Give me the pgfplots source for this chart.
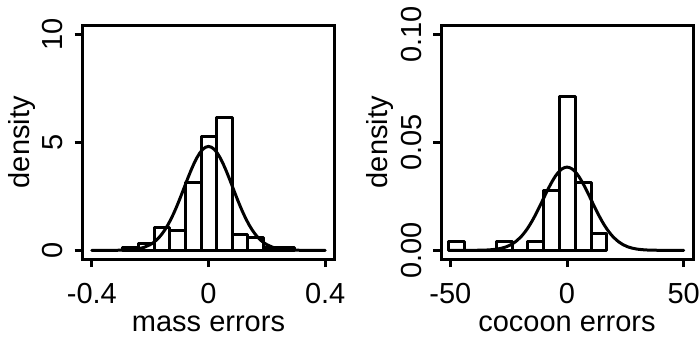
\documentclass[border=0pt]{standalone}
\usepackage{pgfplots}
\pgfplotsset{compat=1.18}
\usepackage{fontspec}
\setmainfont{Liberation Sans}
\begin{document}
\begin{tikzpicture}
\useasboundingbox (0,0) rectangle (700pt,340pt);
\pgfplotsset{
 rstyle/.style={
  scale only axis, width=252pt, height=233.5pt, anchor=south west,
  axis line style={line width=3pt},
  tick align=outside, major tick length=8pt,
  tick style={line width=3pt, black},
  xtick pos=bottom, ytick pos=left,
  /pgf/number format/assume math mode=true,
  tick label style={font=\fontsize{29}{34}\selectfont},
  xticklabel style={anchor=base, yshift=-36.3pt},
  yticklabel style={xshift=-12pt, rotate=90, anchor=base},
  every axis x label/.style={at={(axis description cs:0.5,-0.3113)}, anchor=base, font=\fontsize{29}{34}\selectfont},
  every axis y label/.style={at={(axis description cs:-0.2123,0.5)}, rotate=90, anchor=base, font=\fontsize{29}{34}\selectfont},
 },
 curve/.style={line width=3pt, black, line cap=round, line join=round},
 histbars/.style={ybar interval, draw=black, fill=none, line width=3pt, line join=round},
}
% left panel
\begin{axis}[rstyle, at={(82.5pt,81pt)},
  xmin=-0.432, xmax=0.432, ymin=-0.4, ymax=10.4,
  xtick={-0.4,0,0.4}, xticklabels={-0.4,0,0.4},
  ytick={0,5,10}, yticklabels={0,5,10},
  xlabel={mass errors}, ylabel={density}]
\addplot[histbars] coordinates {
(-0.2938,0.15) (-0.2402,0.30) (-0.1865,1.05) (-0.1329,0.90) (-0.0792,3.15)
(-0.0256,5.25) (0.0281,6.15) (0.0817,0.75) (0.1354,0.60) (0.1890,0.15)
(0.2427,0.15) (0.2963,0.15)};
\addplot[curve] coordinates {
(-0.40,0) (-0.38,0.0001) (-0.36,0.0003) (-0.34,0.0010) (-0.32,0.0028) (-0.30,0.0070)
(-0.28,0.0163) (-0.26,0.0356) (-0.24,0.0735) (-0.22,0.143) (-0.20,0.264) (-0.19,0.350)
(-0.18,0.458) (-0.17,0.590) (-0.16,0.750) (-0.15,0.939) (-0.14,1.159) (-0.13,1.410)
(-0.12,1.690) (-0.11,1.997) (-0.10,2.326) (-0.09,2.670) (-0.08,3.021) (-0.07,3.368)
(-0.06,3.701) (-0.05,4.009) (-0.04,4.279) (-0.03,4.502) (-0.02,4.669) (-0.01,4.771)
(0,4.806)
(0.01,4.771) (0.02,4.669) (0.03,4.502) (0.04,4.279) (0.05,4.009) (0.06,3.701)
(0.07,3.368) (0.08,3.021) (0.09,2.670) (0.10,2.326) (0.11,1.997) (0.12,1.690)
(0.13,1.410) (0.14,1.159) (0.15,0.939) (0.16,0.750) (0.17,0.590) (0.18,0.458)
(0.19,0.350) (0.20,0.264) (0.22,0.143) (0.24,0.0735) (0.26,0.0356) (0.28,0.0163)
(0.30,0.0070) (0.32,0.0028) (0.34,0.0010) (0.36,0.0003) (0.38,0.0001) (0.40,0)};
\end{axis}
% right panel
\begin{axis}[rstyle, at={(441pt,81pt)},
  xmin=-54, xmax=54, ymin=-0.004, ymax=0.104,
  xtick={-50,0,50}, xticklabels={-50,0,50},
  ytick={0,0.05,0.1}, yticklabels={0.00,0.05,0.10},
  xlabel={cocoon errors}, ylabel={density}]
\addplot[histbars] coordinates {
(-50.60,0.00395) (-43.83,0) (-37.06,0) (-30.29,0.00395) (-23.52,0)
(-16.75,0.00395) (-9.98,0.02765) (-3.21,0.0711) (3.56,0.0316) (10.33,0.0079)
(17.10,0.0079)};
\addplot[curve] coordinates {
(-50,0) (-45,0) (-40,0.00002) (-36,0.00009) (-34,0.00018) (-32,0.00033) (-30,0.00058)
(-28,0.00100) (-26,0.00165) (-24,0.00263) (-22,0.00404) (-20,0.00597) (-19,0.00716)
(-18,0.00851) (-17,0.01001) (-16,0.01168) (-15,0.01349) (-14,0.01545) (-13,0.01752)
(-12,0.01968) (-11,0.02191) (-10,0.02416) (-9,0.02640) (-8,0.02857) (-7,0.03064)
(-6,0.03255) (-5,0.03427) (-4,0.03573) (-3,0.03692) (-2,0.03779) (-1,0.03832)
(0,0.0385)
(1,0.03832) (2,0.03779) (3,0.03692) (4,0.03573) (5,0.03427) (6,0.03255) (7,0.03064)
(8,0.02857) (9,0.02640) (10,0.02416) (11,0.02191) (12,0.01968) (13,0.01752)
(14,0.01545) (15,0.01349) (16,0.01168) (17,0.01001) (18,0.00851) (19,0.00716)
(20,0.00597) (22,0.00404) (24,0.00263) (26,0.00165) (28,0.00100) (30,0.00058)
(32,0.00033) (34,0.00018) (36,0.00009) (40,0.00002) (45,0) (50,0)};
\end{axis}
\end{tikzpicture}
\end{document}
